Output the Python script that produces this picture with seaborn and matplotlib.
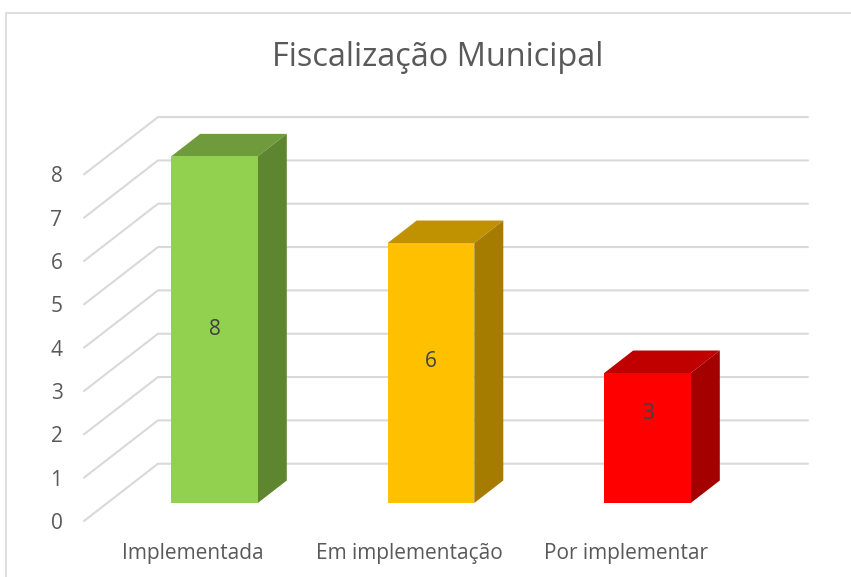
import matplotlib
matplotlib.use("Agg")
import matplotlib.pyplot as plt
from matplotlib.lines import Line2D
from matplotlib.patches import Polygon
from matplotlib.transforms import ScaledTranslation
import pandas as pd
import seaborn as sns

title = "Fiscalização Municipal"
categories = ["Implementada", "Em implementação", "Por implementar"]
values = [8, 6, 3]
label_positions = [4.00, 3.27, 2.07]
y_ticks = [0, 1, 2, 3, 4, 5, 6, 7, 8]
front_colors = ["#92D050", "#FFC000", "#FF0000"]
top_colors = ["#6F9B3D", "#C09100", "#C00000"]
side_colors = ["#5E8530", "#A67C00", "#A50000"]

W, H = 851, 577
TEXT = "#595959"
GRID = "#D9D9D9"
UNIT = 43.33       # pixels per value
STEP = 216.5       # pixels per category
L, R, T, B = 84, 808, 117, 521   # plot box in pixels
BASE = 503         # pixel row of the bars' base
X0 = 214.5         # pixel column of the first category

sns.set_theme(style="white")
plt.rcParams["font.family"] = ["Open Sans", "DejaVu Sans"]

fig = plt.figure(figsize=(W / 100, H / 100), dpi=100, facecolor="white")
ax = fig.add_axes([L / W, 1 - B / H, (R - L) / W, (B - T) / H])

df = pd.DataFrame({"category": categories, "value": values})
sns.barplot(data=df, x="category", y="value", hue="category", palette=front_colors,
            width=0.40, dodge=False, legend=False, saturation=1, ax=ax, zorder=4, linewidth=0)

ax.set_xlim((L - X0) / STEP, (R - X0) / STEP)
ax.set_ylim(-(B - BASE) / UNIT, (BASE - T) / UNIT)

# depth of the 3D look, in data units
dx_bar, dy_bar = 29 / STEP, 22.5 / UNIT
back_x = (158 - X0) / STEP
front_x = (L - X0) / STEP
back_y0 = (BASE - 463.7) / UNIT
front_y0 = -(B - BASE) / UNIT

for v in y_ticks:
    ax.add_line(Line2D([front_x, back_x, (R - X0) / STEP],
                       [front_y0 + v, back_y0 + v, back_y0 + v],
                       color=GRID, lw=1.5, zorder=1, solid_joinstyle="miter",
                       clip_on=False))

half = 0.20
for i, v in enumerate(values):
    ax.add_patch(Polygon([(i - half, v), (i + half, v), (i + half + dx_bar, v + dy_bar),
                          (i - half + dx_bar, v + dy_bar)],
                         closed=True, fc=top_colors[i], ec="none", zorder=3))
    ax.add_patch(Polygon([(i + half, 0), (i + half + dx_bar, dy_bar), (i + half + dx_bar, v + dy_bar),
                          (i + half, v)],
                         closed=True, fc=side_colors[i], ec="none", zorder=3))
    ax.text(i, label_positions[i], str(v), ha="center", va="center",
            color="#404040", fontsize=15, zorder=5)

ax.set_xlabel("")
ax.set_ylabel("")
ax.set_yticks([])
ax.set_xticks(range(len(categories)), categories)
ax.tick_params(axis="x", length=0, pad=16, labelsize=15, labelcolor=TEXT)
shift = ScaledTranslation(-22 / 100, 0, fig.dpi_scale_trans)
for lab in ax.get_xticklabels():
    lab.set_transform(lab.get_transform() + shift)
sns.despine(ax=ax, left=True, bottom=True)
ax.patch.set_alpha(0)

# value axis sits on the front edge of the floor
ay = ax.twinx()
ay.set_ylim(0, (B - T) / UNIT)
ay.yaxis.tick_left()
ay.set_yticks(y_ticks, [str(t) for t in y_ticks])
ay.tick_params(axis="y", length=0, pad=15.5, labelsize=15, labelcolor=TEXT)
sns.despine(ax=ay, left=True, bottom=True, right=True, top=True)
ay.patch.set_alpha(0)

fig.text(437.5 / W, 1 - 58 / H, title, ha="center", va="center", fontsize=23.4, color=TEXT)

fig.add_artist(Line2D([5.5 / W, 5.5 / W, 1], [0, 1 - 12.5 / H, 1 - 12.5 / H],
                      transform=fig.transFigure, color=GRID, lw=1.2))

fig.savefig("out.png", dpi=100, facecolor="white")
